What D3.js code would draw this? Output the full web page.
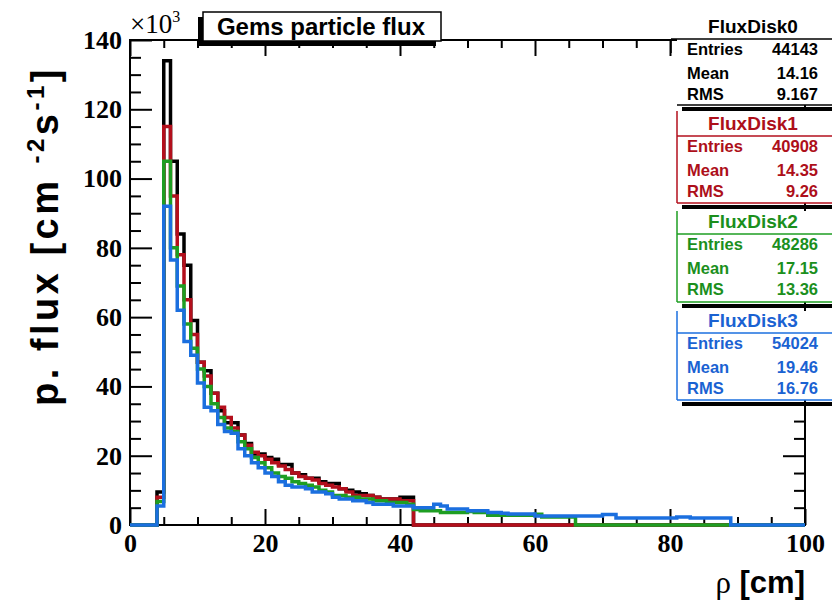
<!DOCTYPE html>
<html>
<head>
<meta charset="utf-8">
<script src="https://cdn.jsdelivr.net/npm/d3@7"></script>
<style>
  body { margin: 0; background: #fff; }
  svg { display: block; }
</style>
</head>
<body>
<div id="chart"></div>
<script>
// bin contents (x10^3), bins are 1 cm wide from 0 to 100 cm
var fluxDisk0 = [0, 0, 0, 0, 9.5, 134, 105, 84, 75, 59,
  47, 44.5, 38, 33, 29.5, 29.5, 26, 23.5, 20.5, 20.5,
  19.5, 19, 17.5, 17.5, 15, 14.5, 13.5, 13.5, 12.5, 12,
  12, 10.5, 10, 9.5, 9, 8.5, 8, 7.5, 7.5, 7.5,
  8, 8, 0, 0, 0, 0, 0, 0, 0, 0,
  0, 0, 0, 0, 0, 0, 0, 0, 0, 0,
  0, 0, 0, 0, 0, 0, 0, 0, 0, 0,
  0, 0, 0, 0, 0, 0, 0, 0, 0, 0,
  0, 0, 0, 0, 0, 0, 0, 0, 0, 0,
  0, 0, 0, 0, 0, 0, 0, 0, 0, 0];
var fluxDisk1 = [0, 0, 0, 0, 8, 115, 95, 78, 65, 55,
  47, 43, 38, 34, 31, 28, 26, 23, 21, 20,
  19, 18, 17, 16, 15, 14, 13.5, 13, 12, 11.5,
  11, 10.5, 9.5, 8.5, 8.5, 8.5, 8, 7.5, 7.5, 7.5,
  7, 7, 0, 0, 0, 0, 0, 0, 0, 0,
  0, 0, 0, 0, 0, 0, 0, 0, 0, 0,
  0, 0, 0, 0, 0, 0, 0, 0, 0, 0,
  0, 0, 0, 0, 0, 0, 0, 0, 0, 0,
  0, 0, 0, 0, 0, 0, 0, 0, 0, 0,
  0, 0, 0, 0, 0, 0, 0, 0, 0, 0];
var fluxDisk2 = [0, 0, 0, 0, 6.8, 105, 80, 69, 58, 51,
  45, 40, 35, 31, 28, 27, 24, 22, 19.5, 18,
  16.5, 15, 14, 13.5, 12.5, 12, 11.5, 11, 10, 9.5,
  8.5, 8.5, 8, 8, 7.5, 7.5, 7, 7, 6.5, 6.5,
  6.5, 6, 4.5, 4.1, 4.1, 4.1, 3.6, 3.6, 3.6, 3.6,
  3.9, 3.6, 3.6, 2.8, 2.8, 2.8, 2.8, 2.8, 2.8, 2.8,
  3.1, 2.3, 2.3, 2.3, 2.3, 2.3, 0, 0, 0, 0,
  0, 0, 0, 0, 0, 0, 0, 0, 0, 0,
  0, 0, 0, 0, 0, 0, 0, 0, 0, 0,
  0, 0, 0, 0, 0, 0, 0, 0, 0, 0];
var fluxDisk3 = [0, 0, 0, 0, 5.5, 92, 76.5, 62, 53, 49,
  41, 34, 33, 29, 27, 26.5, 22, 20, 18, 16.5,
  15, 14, 12.5, 11.5, 11, 11, 10.5, 9.5, 9.5, 9,
  8, 7.5, 7.5, 7, 7, 6.5, 6, 6, 6, 5.5,
  5.5, 5.5, 5, 5, 5, 6, 5.5, 4.6, 4.6, 4.6,
  4.1, 4.1, 4.1, 3.6, 3.6, 3.4, 3.2, 3.2, 3.2, 3.2,
  2.6, 2.6, 2.6, 2.6, 2.6, 2.6, 2.6, 2.6, 2.6, 2.6,
  3, 3, 2, 2, 2, 2, 2, 2, 2, 2,
  2, 2.3, 2.3, 2, 2, 2, 2, 2, 2, 0,
  0, 0, 0, 0, 0, 0, 0, 0, 0, 0];

var seriesNames = ["FluxDisk0", "FluxDisk1", "FluxDisk2", "FluxDisk3"];
var entries = ["44143", "40908", "48286", "54024"];
var means = ["14.16", "14.35", "17.15", "19.46"];
var rmsValues = ["9.167", "9.26", "13.36", "16.76"];
var statLabels = ["Entries", "Mean", "RMS"];

var xTicks = [0, 20, 40, 60, 80, 100];
var yTicks = [0, 20, 40, 60, 80, 100, 120, 140];

var lineColors = ["#000000", "#b30f1c", "#1e9e22", "#1b6fdf"];
var textColors = ["#000000", "#ad0f1a", "#1b8f1d", "#1a62d2"];

var width = 832, height = 603;
var frameL = 130, frameR = 805, frameT = 40, frameB = 525;

var svg = d3.select("#chart").append("svg")
  .attr("width", width)
  .attr("height", height);

var x = d3.scaleLinear().domain([0, 100]).range([frameL, frameR]);
var y = d3.scaleLinear().domain([0, 140]).range([frameB, frameT]);

function minorOf(step, max, majors) {
  var out = [];
  for (var v = 0; v <= max; v += step) if (majors.indexOf(v) < 0) out.push(v);
  return out;
}
var xMinor = minorOf(5, 100, xTicks);
var yMinor = minorOf(5, 140, yTicks);

var serif = "'Liberation Serif', 'Times New Roman', serif";
var sans = "'Liberation Sans', Arial, Helvetica, sans-serif";

function styleAxis(g) {
  g.select(".domain").remove();
  g.selectAll(".tick line").attr("stroke", "#000").attr("stroke-width", 2);
  g.selectAll(".tick text")
    .attr("font-family", serif)
    .attr("font-weight", "bold")
    .attr("font-size", 26)
    .attr("fill", "#000");
}

// bottom axis
svg.append("g").attr("transform", "translate(0," + frameB + ")")
  .call(d3.axisBottom(x).tickValues(xTicks).tickSize(-16).tickPadding(9).tickFormat(d3.format("d")))
  .call(styleAxis);
svg.append("g").attr("transform", "translate(0," + frameB + ")")
  .call(d3.axisBottom(x).tickValues(xMinor).tickSize(-8).tickFormat(""))
  .call(styleAxis);
// top axis
svg.append("g").attr("transform", "translate(0," + frameT + ")")
  .call(d3.axisTop(x).tickValues(xTicks).tickSize(-16).tickFormat(""))
  .call(styleAxis);
svg.append("g").attr("transform", "translate(0," + frameT + ")")
  .call(d3.axisTop(x).tickValues(xMinor).tickSize(-8).tickFormat(""))
  .call(styleAxis);
// left axis
svg.append("g").attr("transform", "translate(" + frameL + ",0)")
  .call(d3.axisLeft(y).tickValues(yTicks).tickSize(-22).tickPadding(8).tickFormat(d3.format("d")))
  .call(styleAxis);
svg.append("g").attr("transform", "translate(" + frameL + ",0)")
  .call(d3.axisLeft(y).tickValues(yMinor).tickSize(-11).tickFormat(""))
  .call(styleAxis);
// right axis
svg.append("g").attr("transform", "translate(" + frameR + ",0)")
  .call(d3.axisRight(y).tickValues(yTicks).tickSize(-22).tickFormat(""))
  .call(styleAxis);
svg.append("g").attr("transform", "translate(" + frameR + ",0)")
  .call(d3.axisRight(y).tickValues(yMinor).tickSize(-11).tickFormat(""))
  .call(styleAxis);

// frame
svg.append("rect")
  .attr("x", frameL).attr("y", frameT)
  .attr("width", frameR - frameL).attr("height", frameB - frameT)
  .attr("fill", "none").attr("stroke", "#000").attr("stroke-width", 2);

// histograms
var step = d3.line()
  .x(function(d) { return x(d.x); })
  .y(function(d) { return y(d.v); })
  .curve(d3.curveStepAfter);

[fluxDisk0, fluxDisk1, fluxDisk2, fluxDisk3].forEach(function(vals, i) {
  var pts = vals.map(function(v, k) { return {x: k, v: v}; });
  pts.push({x: vals.length, v: vals[vals.length - 1]});
  svg.append("path")
    .attr("d", step(pts))
    .attr("fill", "none")
    .attr("stroke", lineColors[i])
    .attr("stroke-width", 3.5)
    .attr("stroke-linejoin", "miter");
});

// x10^3 exponent
var expo = svg.append("text")
  .attr("x", frameL).attr("y", 33)
  .attr("font-family", serif).attr("font-size", 27);
expo.append("tspan").text("\u00d710");
expo.append("tspan").attr("dy", -11).attr("font-size", 16).text("3");

// axis titles
var yt = svg.append("text")
  .attr("transform", "translate(58,66) rotate(-90)")
  .attr("text-anchor", "end")
  .attr("font-family", sans).attr("font-weight", "bold")
  .attr("font-size", 38)
  .attr("letter-spacing", 3.5);
yt.append("tspan").text("p. flux [cm ");
yt.append("tspan").attr("dy", -14).attr("font-size", 24).text("-2");
yt.append("tspan").attr("dy", 14).text("s");
yt.append("tspan").attr("dy", -14).attr("font-size", 24).text("-1");
yt.append("tspan").attr("dy", 14).text("]");

var xt = svg.append("text")
  .attr("x", frameR).attr("y", 593)
  .attr("text-anchor", "end")
  .attr("font-family", sans).attr("font-weight", "bold")
  .attr("font-size", 31);
xt.append("tspan").attr("font-weight", "normal").attr("font-family", serif).text("\u03c1");
xt.append("tspan").text(" [cm]");

// title box with shadow
svg.append("rect").attr("x", 198).attr("y", 17).attr("width", 238).attr("height", 29).attr("fill", "#000");
svg.append("rect").attr("x", 203).attr("y", 12).attr("width", 238).attr("height", 29)
  .attr("fill", "#fff").attr("stroke", "#000").attr("stroke-width", 1.5);
svg.append("text")
  .attr("x", 321).attr("y", 35)
  .attr("text-anchor", "middle")
  .attr("font-family", sans).attr("font-weight", "bold")
  .attr("font-size", 24)
  .text("Gems particle flux");

// stats boxes
var boxTop = [-4, 111, 211, 311];
var boxBottom = [105, 203, 302, 400];
var sepY = [39, 136, 234, 333];
var boxLeft = 677;

seriesNames.forEach(function(name, i) {
  var g = svg.append("g");
  g.append("rect")
    .attr("x", boxLeft + 5).attr("y", boxBottom[i] + 2)
    .attr("width", width - boxLeft).attr("height", 4)
    .attr("fill", "#000");
  g.append("rect")
    .attr("x", boxLeft).attr("y", boxTop[i])
    .attr("width", width - boxLeft + 10).attr("height", boxBottom[i] - boxTop[i])
    .attr("fill", "#fff");
  if (i > 0) {
    g.append("line")
      .attr("x1", boxLeft).attr("x2", boxLeft)
      .attr("y1", boxTop[i]).attr("y2", boxBottom[i])
      .attr("stroke", lineColors[i]).attr("stroke-width", 1.5);
  } else {
    g.append("line")
      .attr("x1", boxLeft - 6).attr("x2", boxLeft - 6)
      .attr("y1", sepY[i]).attr("y2", sepY[i] + 14)
      .attr("stroke", "#000").attr("stroke-width", 1.5);
  }
  g.append("line")
    .attr("x1", i > 0 ? boxLeft : boxLeft - 6).attr("x2", width)
    .attr("y1", sepY[i]).attr("y2", sepY[i])
    .attr("stroke", lineColors[i]).attr("stroke-width", 1.5);
  g.append("line")
    .attr("x1", boxLeft).attr("x2", width)
    .attr("y1", boxBottom[i]).attr("y2", boxBottom[i])
    .attr("stroke", lineColors[i]).attr("stroke-width", 1.5);

  g.append("text")
    .attr("x", 753).attr("y", sepY[i] - 6)
    .attr("text-anchor", "middle")
    .attr("font-family", sans).attr("font-weight", "bold")
    .attr("font-size", 19)
    .attr("fill", textColors[i])
    .text(name);

  var vals = [entries[i], means[i], rmsValues[i]];
  var rowY = [sepY[i] + 16, sepY[i] + 40, sepY[i] + 61];
  statLabels.forEach(function(lab, r) {
    g.append("text")
      .attr("x", 687).attr("y", rowY[r])
      .attr("font-family", sans).attr("font-weight", "bold")
      .attr("font-size", 16.5)
      .attr("fill", textColors[i])
      .text(lab);
    g.append("text")
      .attr("x", 818).attr("y", rowY[r])
      .attr("text-anchor", "end")
      .attr("font-family", sans).attr("font-weight", "bold")
      .attr("font-size", 16.5)
      .attr("fill", textColors[i])
      .text(vals[r]);
  });
});
</script>
</body>
</html>
